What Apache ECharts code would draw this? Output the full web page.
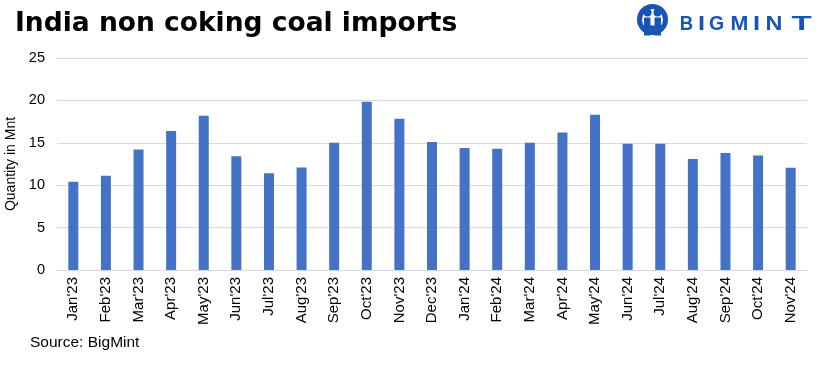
<!DOCTYPE html>
<html><head><meta charset="utf-8">
<script src="https://cdn.jsdelivr.net/npm/echarts@6/dist/echarts.min.js"></script>
<style>html,body{margin:0;padding:0;background:#fff}#c{width:824px;height:365px}</style>
</head><body><div id="c"></div>
<script>
const categories = ["Jan'23","Feb'23","Mar'23","Apr'23","May'23","Jun'23","Jul'23","Aug'23","Sep'23","Oct'23","Nov'23","Dec'23","Jan'24","Feb'24","Mar'24","Apr'24","May'24","Jun'24","Jul'24","Aug'24","Sep'24","Oct'24","Nov'24"];
const imports = [10.4,11.1,14.2,16.4,18.2,13.4,11.4,12.1,15.0,19.85,17.85,15.1,14.4,14.3,15.0,16.2,18.3,14.9,14.9,13.1,13.8,13.5,12.05];
const yTicks = [0,5,10,15,20,25];
const titleText = "India non coking coal imports";
const yName = "Quantity in Mnt";
const sourceText = "Source: BigMint";
const logoText = "BIGMINT";

const chart = echarts.init(document.getElementById('c'));
const blue = '#1654b6';
const letterCenters = [686.5,701.5,716.5,739.5,756.5,774,801.5];
const letterScale = [0.95,1.3,1.0,1.1,1.3,1.2,1.7];
const logoLetters = logoText.split('').map((ch,i)=>({
  type:'text',x:letterCenters[i],y:25,scaleX:letterScale[i],
  style:{text:ch,fontFamily:'Liberation Sans',fontWeight:'bold',fontSize:19.5,fill:blue,align:'center',verticalAlign:'middle',textAlign:'center',textVerticalAlign:'middle'}
}));
chart.setOption({
  animation:false,
  backgroundColor:'#fff',
  title:{text:titleText,left:10,top:6,textStyle:{fontFamily:'DejaVu Sans',fontWeight:'bold',fontSize:26.5,color:'#000'}},
  grid:{left:57,right:17,top:58,bottom:95,containLabel:false,outerBoundsMode:'none'},
  xAxis:{type:'category',data:categories,
    axisLine:{lineStyle:{color:'#d9d9d9',width:1}},axisTick:{show:false},
    axisLabel:{rotate:90,interval:0,margin:7,fontFamily:'Liberation Sans',fontSize:15,color:'#000'}},
  yAxis:{type:'value',min:yTicks[0],max:yTicks[yTicks.length-1],interval:5,
    name:yName,nameLocation:'middle',nameGap:35,nameRotate:90,
    nameTextStyle:{fontFamily:'Liberation Sans',fontSize:14,color:'#000'},
    axisLine:{show:false},axisTick:{show:false},
    axisLabel:{margin:12,fontFamily:'Liberation Sans',fontSize:14.5,color:'#000'},
    splitLine:{lineStyle:{color:'#d9d9d9',width:1}}},
  series:[{type:'bar',data:imports,barWidth:10,itemStyle:{color:'#4472c4'}}],
  graphic:[
    {type:'text',left:30,top:335,style:{text:sourceText,fontFamily:'Liberation Sans',fontSize:15.5,fill:'#000'}},
    {type:'group',left:637,top:4,children:[
      {type:'circle',shape:{cx:15.5,cy:16,r:15.5},style:{fill:blue}},
      {type:'circle',shape:{cx:15.5,cy:16,r:10.5},style:{fill:'#fff'}},
      {type:'circle',shape:{cx:10.5,cy:9,r:4},style:{fill:blue}},
      {type:'circle',shape:{cx:20.5,cy:9,r:4},style:{fill:blue}},
      {type:'rect',shape:{x:7,y:14,width:6.5,height:18},style:{fill:blue}},
      {type:'rect',shape:{x:17.5,y:14,width:6.5,height:18},style:{fill:blue}},
      {type:'polygon',shape:{points:[[11.5,22],[15.5,30],[19.5,22]]},style:{fill:blue}}
    ]}
  ].concat(logoLetters)
});
</script></body></html>
